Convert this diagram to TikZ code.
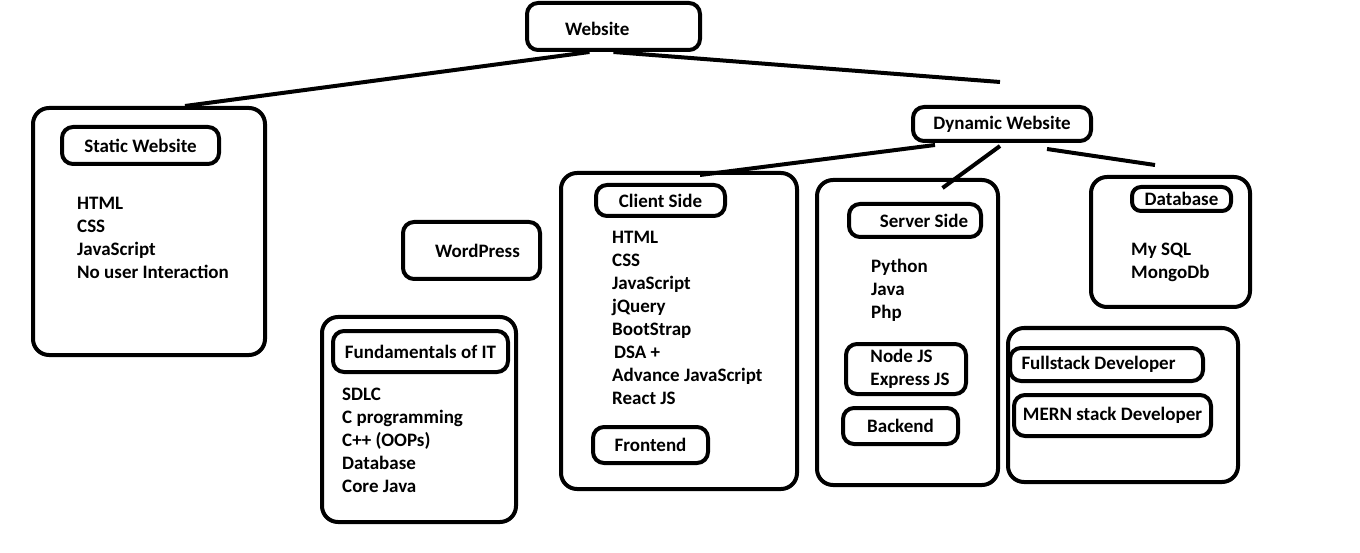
\documentclass[tikz,border=0pt]{standalone}
\usepackage{fontspec}
\setmainfont{Carlito}
\usepackage{tikz}
\tikzset{
	x=1pt, y=-1pt,
	every node/.style={font=\fontsize{19}{23}\selectfont\bfseries},
	box/.style={draw, line width=4pt, rounded corners=16pt},
	tag/.style={draw, line width=4pt, rounded corners=11pt, inner sep=0pt, align=left},
	items/.style={anchor=north west, inner sep=0pt, align=left},
	link/.style={line width=4pt}}

\begin{document}
\begin{tikzpicture}
		\useasboundingbox (0,0) rectangle (1360,553);
		
		% outer boxes
		\node[box, minimum width=232pt, minimum height=247pt] (static) at (149,231.5) {};
		\node[box, minimum width=194pt, minimum height=205pt] (fund) at (419,419.5) {};
		\node[box, minimum width=236pt, minimum height=316pt] (client) at (679,331) {};
		\node[box, minimum width=181pt, minimum height=305pt] (server) at (907.5,332.5) {};
		\node[box, minimum width=159pt, minimum height=130pt] (db) at (1170.5,242) {};
		\node[box, minimum width=230pt, minimum height=154pt] (dev) at (1123,405) {};
		
		% titles
		\node[tag, text width=97pt, inner xsep=38pt, minimum height=47pt, text height=21pt, text depth=3pt] (web) at (613.5,26.5) {Website};
		\node[tag, minimum width=157pt, minimum height=37pt] (statictag) at (140.5,145.5) {Static Website};
		\node[tag, minimum width=137pt, minimum height=57pt] (wp) at (471.5,250.5) {\hspace{12pt}WordPress};
		\node[tag, minimum width=175pt, minimum height=41pt] (fundtag) at (420.5,351.5) {Fundamentals of IT};
		\node[tag, minimum width=178pt, minimum height=34pt] (dyn) at (1002,124) {Dynamic Website};
		\node[tag, minimum width=129pt, minimum height=31pt] (clienttag) at (660.5,200.5) {Client Side};
		\node[tag, minimum width=115pt, minimum height=36pt] (front) at (650.5,445) {Frontend};
		\node[tag, minimum width=132pt, minimum height=33pt] (servertag) at (915,220.5) {\hspace{18pt}Server Side};
		\node[tag, minimum width=120pt, minimum height=50pt] (node) at (906,369) {\hspace{8pt}Node JS\\\hspace{8pt}Express JS};
		\node[tag, minimum width=115pt, minimum height=36pt] (back) at (900.5,426) {Backend};
		\node[tag, minimum width=99pt, minimum height=24pt, rounded corners=9pt] (dbtag) at (1181.5,199) {Database};
		\node[tag, minimum width=193pt, minimum height=33pt] (full) at (1106.5,364.5) {Fullstack Developer\hspace{16pt}};
		\node[tag, minimum width=197pt, minimum height=41pt] (mern) at (1112.5,415.5) {MERN stack Developer};
		
		% lists
		\node[items] (staticlist) at (77,197) {HTML\\CSS\\JavaScript\\No user Interaction};
		\node[items] (fundlist) at (342,388) {SDLC\\C programming\\C++ (OOPs)\\Database\\Core Java};
		\node[items] (clientlist) at (612,231) {HTML\\CSS\\JavaScript\\jQuery\\BootStrap\\\hspace{2pt}DSA +\\Advance JavaScript\\React JS};
		\node[items] (serverlist) at (871,259) {Python\\Java\\Php};
		\node[items] (dblist) at (1131,243) {My SQL\\MongoDb};
		
		\coordinate (webend) at (1000,82);
		\coordinate (dynend) at (1155,165);
		
		\draw[link]
		([xshift=-24pt]web.south) -- ([xshift=36pt]static.north)
		(web.south) -- (webend)
		([xshift=-67pt,yshift=-2pt]dyn.south) -- ([xshift=21pt,yshift=-4pt]client.north)
		([xshift=-2pt,yshift=-3pt]dyn.south) -- ([xshift=35pt,yshift=-10pt]server.north)
		([xshift=45pt,yshift=-6pt]dyn.south) -- (dynend)
		;
		
	\end{tikzpicture}
\end{document}
